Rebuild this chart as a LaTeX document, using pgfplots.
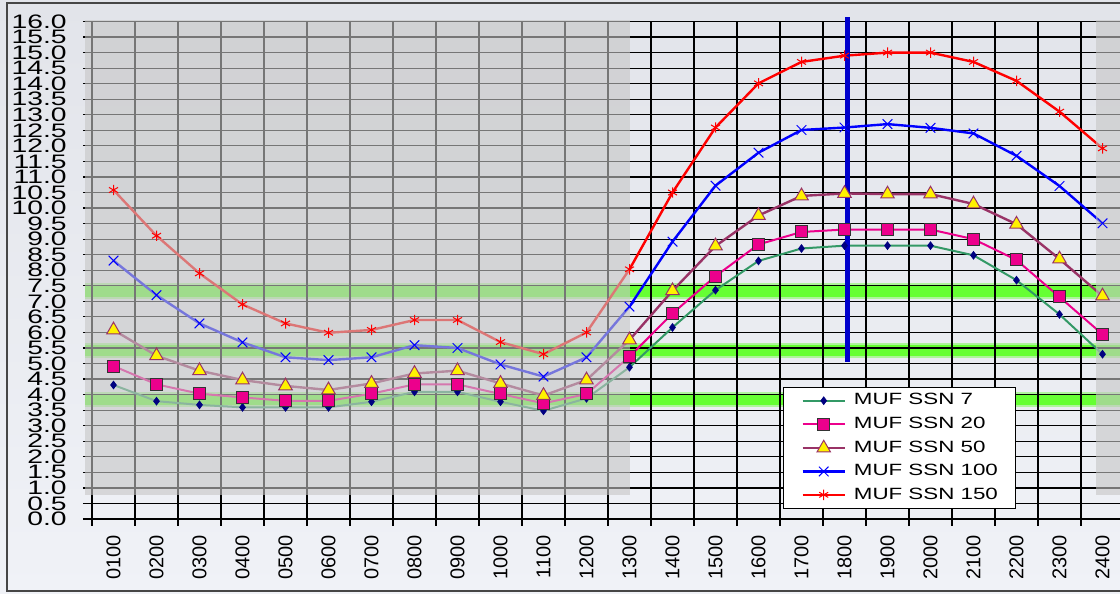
\documentclass[border=0pt]{standalone}
\usepackage{fontspec}
\setmainfont{Liberation Sans}
\usepackage{pgfplots}
\pgfplotsset{compat=1.18}

\definecolor{bgtop}{RGB}{226,228,234}
\definecolor{bgbot}{RGB}{240,242,247}
\definecolor{ssngreen}{RGB}{51,153,102}
\definecolor{navyblue}{RGB}{0,0,128}
\definecolor{maroon}{RGB}{153,51,102}
\definecolor{bandgreen}{RGB}{102,255,51}
\definecolor{shadegray}{RGB}{198,198,198}
\definecolor{markline}{RGB}{0,0,204}
\definecolor{framegray}{RGB}{70,70,70}

\pgfplotstableread{
x  s7    s20   s50   s100  s150
1  4.31  4.92  6.08  8.31  10.58
2  3.79  4.33  5.25  7.20  9.11
3  3.67  4.03  4.77  6.29  7.90
4  3.59  3.91  4.47  5.68  6.90
5  3.59  3.80  4.28  5.20  6.29
6  3.59  3.80  4.15  5.11  5.99
7  3.77  4.03  4.36  5.20  6.08
8  4.09  4.33  4.68  5.59  6.40
9  4.09  4.33  4.77  5.50  6.40
10 3.77  4.02  4.36  4.97  5.69
11 3.48  3.72  3.97  4.58  5.30
12 3.88  4.02  4.47  5.20  6.00
13 4.88  5.22  5.76  6.83  8.03
14 6.16  6.61  7.34  8.92  10.50
15 7.36  7.81  8.78  10.72 12.59
16 8.30  8.83  9.76  11.78 14.01
17 8.70  9.23  10.39 12.51 14.70
18 8.79  9.31  10.47 12.59 14.90
19 8.79  9.31  10.45 12.70 15.00
20 8.79  9.31  10.45 12.58 15.00
21 8.48  9.00  10.13 12.40 14.70
22 7.68  8.33  9.48  11.68 14.09
23 6.58  7.14  8.36  10.71 13.10
24 5.30  5.94  7.17  9.51  11.92
}\muf

\begin{document}
\begin{tikzpicture}
\begin{axis}[
  set layers,
  at={(46pt,37.5pt)}, anchor=south west,
  scale only axis, width=516pt, height=248.75pt,
  xmin=0.5, xmax=24.5, ymin=0, ymax=16,
  clip=false,
  axis lines*=left,
  axis line style={black, line width=0.7pt},
  xtick={1,...,24},
  xticklabels={0100,0200,0300,0400,0500,0600,0700,0800,0900,1000,1100,1200,
    1300,1400,1500,1600,1700,1800,1900,2000,2100,2200,2300,2400},
  major x tick style={draw=none},
  minor xtick={0.5,1.5,...,24.5},
  ytick={0,0.5,...,16},
  xminorgrids, ymajorgrids,
  grid style={black, line width=0.6pt},
  minor grid style={black, line width=0.6pt},
  tick align=outside,
  major tick length=4.5pt, minor tick length=3.5pt,
  tick style={black, line width=0.6pt},
  xticklabel style={yshift=-3.5pt, rotate=90, anchor=east, font=\fontsize{10}{12}\selectfont, inner sep=0pt},
  yticklabel={\scalebox{1.45}[1]{\pgfmathprintnumber[fixed,fixed zerofill,precision=1]{\tick}}},
  yticklabel style={xshift=-8pt, anchor=east, font=\fontsize{9.75}{10}\selectfont, inner sep=0pt},
  /pgf/number format/assume math mode=true,
  legend style={at={(0.6696,0.2653)}, anchor=north west, draw=black, line width=0.5pt,
    fill=white, font=\fontsize{8.15}{9}\selectfont, inner xsep=9pt, inner ysep=3pt,
    row sep=4.5pt, column sep=4pt, nodes={inner sep=0pt}},
  legend cell align=left,
  legend image code/.code={\draw[mark repeat=2,mark phase=2,#1] plot coordinates {(0pt,0pt) (10.5pt,0pt) (21pt,0pt)};},
]
% chart area background and frame
\addplot[forget plot, on layer=axis background, draw=none, top color=bgtop, bottom color=bgbot]
  coordinates {(-1.7,-2.45) (27,-2.45) (27,16.72) (-1.7,16.72)};
\addplot[forget plot, on layer=axis background, draw=framegray, line width=1pt]
  coordinates {(27,-2.315) (-1.477,-2.315) (-1.477,16.59) (27,16.59)};
% frequency bands
\addplot[forget plot, on layer=axis background, draw=none, fill=bandgreen, fill opacity=0.45]
  coordinates {(0.34,3.60) (26,3.60) (26,4.08) (0.34,4.08)};
\addplot[forget plot, on layer=axis background, draw=none, fill=bandgreen]
  coordinates {(0.34,3.67) (26,3.67) (26,4.01) (0.34,4.01)};
\addplot[forget plot, on layer=axis background, draw=none, fill=bandgreen, fill opacity=0.45]
  coordinates {(0.34,5.18) (26,5.18) (26,5.66) (0.34,5.66)};
\addplot[forget plot, on layer=axis background, draw=none, fill=bandgreen]
  coordinates {(0.34,5.25) (26,5.25) (26,5.59) (0.34,5.59)};
\addplot[forget plot, on layer=axis background, draw=none, fill=bandgreen, fill opacity=0.45]
  coordinates {(0.34,7.07) (26,7.07) (26,7.59) (0.34,7.59)};
\addplot[forget plot, on layer=axis background, draw=none, fill=bandgreen]
  coordinates {(0.34,7.14) (26,7.14) (26,7.52) (0.34,7.52)};

\addplot[ssngreen, line width=1pt, mark=diamond*, mark size=1.9pt,
  mark options={fill=navyblue, draw=navyblue, solid, line width=0.4pt}] table[x=x, y=s7] {\muf};
\addlegendentry{\scalebox{1.37}[1]{MUF SSN 7}}
\addplot[magenta, line width=1pt, mark=square*, mark size=3pt,
  mark options={fill=magenta, draw=black!80, solid, line width=0.5pt}] table[x=x, y=s20] {\muf};
\addlegendentry{\scalebox{1.37}[1]{MUF SSN 20}}
\addplot[maroon, line width=1.2pt, mark=triangle*, mark size=3.9pt,
  mark options={fill=yellow, draw=maroon, solid, line width=0.5pt}] table[x=x, y=s50] {\muf};
\addlegendentry{\scalebox{1.37}[1]{MUF SSN 50}}
\addplot[blue, line width=1.2pt, mark=x, mark size=3.4pt,
  mark options={solid, line width=0.5pt}] table[x=x, y=s100] {\muf};
\addlegendentry{\scalebox{1.37}[1]{MUF SSN 100}}
\addplot[red, line width=1.2pt, mark=asterisk, mark size=2.6pt,
  mark options={solid, line width=0.5pt}] table[x=x, y=s150] {\muf};
\addlegendentry{\scalebox{1.37}[1]{MUF SSN 150}}

% shaded night-time regions and current-time marker
\addplot[forget plot, draw=none, fill=shadegray, fill opacity=0.6]
  coordinates {(0.34,0.77) (13.0,0.77) (13.0,16.06) (0.34,16.06)};
\addplot[forget plot, draw=none, fill=shadegray, fill opacity=0.6]
  coordinates {(23.85,0.77) (26,0.77) (26,16.06) (23.85,16.06)};
\addplot[forget plot, markline, line width=2.5pt]
  coordinates {(18.08,5.05) (18.08,16.13)};
\end{axis}
\pgfresetboundingbox
\useasboundingbox (0,0) rectangle (560pt,297pt);
\end{tikzpicture}
\end{document}
